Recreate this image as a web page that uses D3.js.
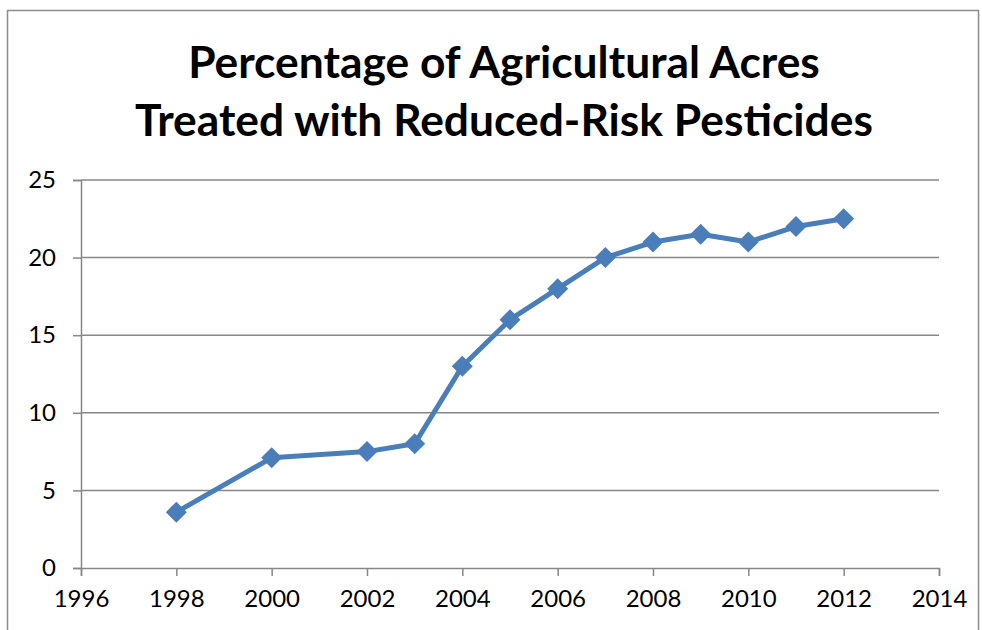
<html>
<head>
<script src="https://d3js.org/d3.v7.min.js"></script>
<style>
  body { margin: 0; background: #fff; }
  .tick text { font-family: Lato, "Open Sans", sans-serif; font-size: 24px; fill: #000; }
  .title { font-family: Lato, "Open Sans", sans-serif; font-weight: bold; fill: #000; }
</style>
</head>
<body>
<div id="chart"></div>
<script>
// chart data
var years = [1998, 2000, 2002, 2003, 2004, 2005, 2006, 2007, 2008, 2009, 2010, 2011, 2012];
var percents = [3.6, 7.1, 7.5, 8.0, 13.0, 16.0, 18.0, 20.0, 21.0, 21.5, 21.0, 22.0, 22.5];
var xTicks = [1996, 1998, 2000, 2002, 2004, 2006, 2008, 2010, 2012, 2014];
var yTicks = [0, 5, 10, 15, 20, 25];
var titleLines = ["Percentage of Agricultural Acres", "Treated with Reduced-Risk Pesticides"];

var W = 982, H = 630;
var plotLeft = 81, plotRight = 939, plotTop = 180, plotBottom = 568;

var svg = d3.select("#chart").append("svg")
    .attr("width", W)
    .attr("height", H);

// outer frame
svg.append("rect")
    .attr("x", 7.5).attr("y", 10.5)
    .attr("width", 971).attr("height", 640)
    .attr("fill", "none")
    .attr("stroke", "#8c8c8c")
    .attr("stroke-width", 1.5);

var x = d3.scaleLinear().domain([1996, 2014]).range([plotLeft, plotRight]);
var y = d3.scaleLinear().domain([0, 25]).range([plotBottom, plotTop]);

// title, sized so the long line spans the same width as the original
var t = svg.selectAll(".title")
    .data(titleLines)
    .enter().append("text")
    .attr("class", "title")
    .attr("text-anchor", "middle")
    .attr("x", 504)
    .attr("y", (d, i) => 78 + i * 58)
    .style("font-size", "40px")
    .text(d => d);
var w = t.nodes()[1].getComputedTextLength();
t.style("font-size", (40 * 738 / w) + "px");

// gridlines
svg.append("g").selectAll("line")
    .data(yTicks.filter(d => d > 0))
    .enter().append("line")
    .attr("x1", plotLeft).attr("x2", plotRight)
    .attr("y1", d => y(d)).attr("y2", d => y(d))
    .attr("stroke", "#878787")
    .attr("stroke-width", 1.5);

// y axis
var yaxis = d3.axisLeft(y).tickValues(yTicks).tickSize(8).tickPadding(10);
var gy = svg.append("g")
    .attr("transform", "translate(" + plotLeft + ",0)")
    .call(yaxis);
gy.select(".domain").attr("stroke", "#878787").attr("stroke-width", 1.5);
gy.selectAll(".tick line").attr("stroke", "#878787").attr("stroke-width", 1.5);
gy.selectAll(".tick text").attr("x", -25);

// x axis
var xaxis = d3.axisBottom(x).tickValues(xTicks).tickFormat(d3.format("d")).tickSize(8).tickPadding(14);
var gx = svg.append("g")
    .attr("transform", "translate(0," + plotBottom + ")")
    .call(xaxis);
gx.select(".domain").attr("stroke", "#878787").attr("stroke-width", 1.5);
gx.selectAll(".tick line").attr("stroke", "#878787").attr("stroke-width", 1.5);

// series line
var pts = years.map((d, i) => [d, percents[i]]);
svg.append("path")
    .datum(pts)
    .attr("fill", "none")
    .attr("stroke", "#4a7ebb")
    .attr("stroke-width", 5)
    .attr("stroke-linejoin", "round")
    .attr("d", d3.line().x(d => x(d[0])).y(d => y(d[1])));

// diamond markers
svg.selectAll(".marker")
    .data(pts)
    .enter().append("path")
    .attr("class", "marker")
    .attr("transform", d => "translate(" + x(d[0]) + "," + y(d[1]) + ")")
    .attr("d", "M0,-10.5L10.5,0L0,10.5L-10.5,0Z")
    .attr("fill", "#4a7ebb");
</script>
</body>
</html>
